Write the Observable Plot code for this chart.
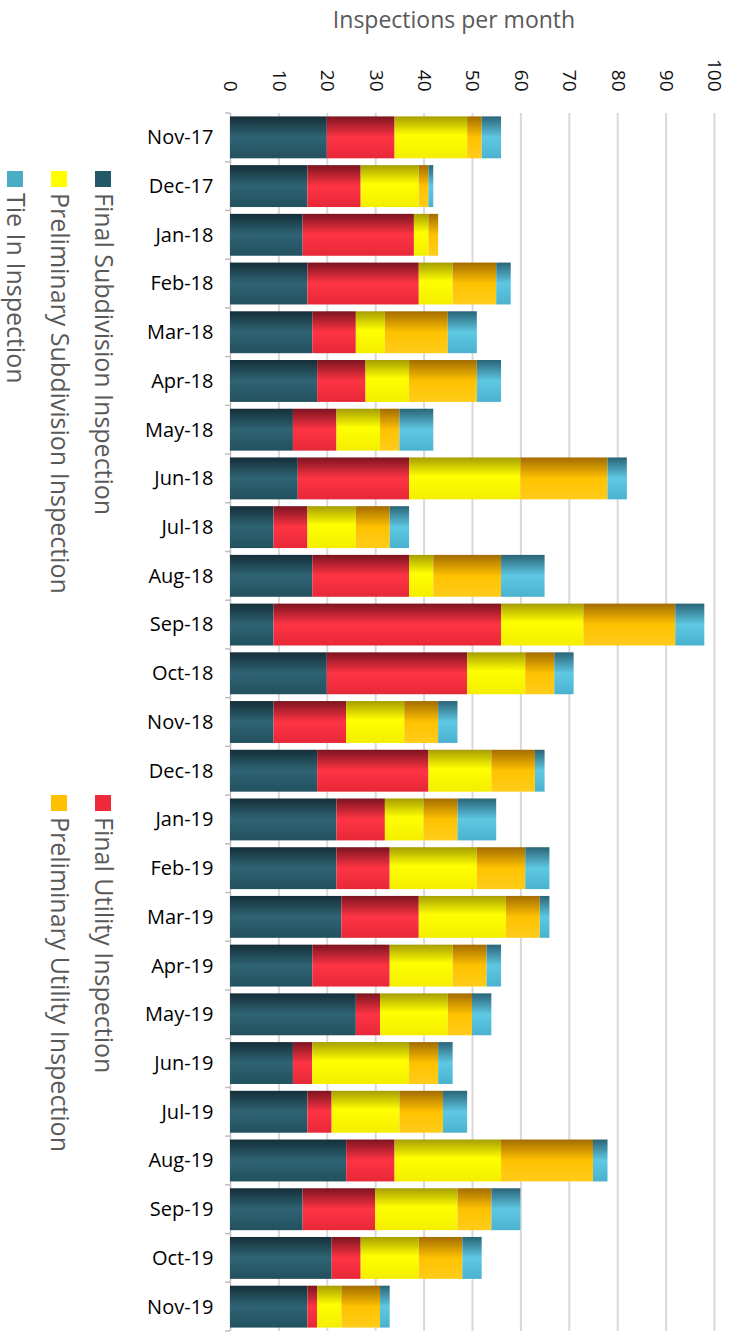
<!DOCTYPE html>
<html>
<head>
<meta charset="utf-8">
<script src="https://cdn.jsdelivr.net/npm/d3@7"></script>
<script src="https://cdn.jsdelivr.net/npm/@observablehq/plot@0.6"></script>
<style>
  html, body { margin: 0; padding: 0; background: #fff; }
  #chart { width: 734px; height: 1336px; overflow: hidden; }
</style>
</head>
<body>
<div id="chart"></div>
<script>
// ---- data ----
const months = ["Nov-17","Dec-17","Jan-18","Feb-18","Mar-18","Apr-18","May-18","Jun-18","Jul-18","Aug-18","Sep-18","Oct-18","Nov-18","Dec-18","Jan-19","Feb-19","Mar-19","Apr-19","May-19","Jun-19","Jul-19","Aug-19","Sep-19","Oct-19","Nov-19"];
const seriesNames = ["Final Subdivision Inspection","Final Utility Inspection","Preliminary Subdivision Inspection","Preliminary Utility Inspection","Tie In Inspection"];
const finalSubdivision   = [20,16,15,16,17,18,13,14, 9,17, 9,20, 9,18,22,22,23,17,26,13,16,24,15,21,16];
const finalUtility       = [14,11,23,23, 9,10, 9,23, 7,20,47,29,15,23,10,11,16,16, 5, 4, 5,10,15, 6, 2];
const prelimSubdivision  = [15,12, 3, 7, 6, 9, 9,23,10, 5,17,12,12,13, 8,18,18,13,14,20,14,22,17,12, 5];
const prelimUtility      = [ 3, 2, 2, 9,13,14, 4,18, 7,14,19, 6, 7, 9, 7,10, 7, 7, 5, 6, 9,19, 7, 9, 8];
const tieIn              = [ 4, 1, 0, 3, 6, 5, 7, 4, 4, 9, 6, 4, 4, 2, 8, 5, 2, 3, 4, 3, 5, 3, 6, 4, 2];
const xTickValues = [0,10,20,30,40,50,60,70,80,90,100];
const titleText = "Inspections per month";

// ---- styles ----
const swatchColors = ["#215968","#ee2a3a","#ffff00","#ffc000","#4bacc6"];
const gradientStops = [
  [["0%","#142f39"],["50%","#2f6474"],["100%","#22505e"]],
  [["0%","#7c1420"],["50%","#ff3444"],["100%","#e62838"]],
  [["0%","#a69e00"],["45%","#ffff00"],["100%","#f3ee00"]],
  [["0%","#a36c00"],["50%","#ffc200"],["100%","#ffcc1a"]],
  [["0%","#2a6477"],["50%","#5ec8e3"],["100%","#4ab2cf"]]
];
const gradIds = seriesNames.map((_, i) => "grad" + i);

const seriesValues = [finalSubdivision, finalUtility, prelimSubdivision, prelimUtility, tieIn];
const table = [];
seriesNames.forEach((s, si) => {
  months.forEach((m, mi) => table.push({month: m, series: s, value: seriesValues[si][mi]}));
});

function defsMark() {
  const defs = d3.create("svg:defs");
  gradientStops.forEach((stops, i) => {
    const g = defs.append("linearGradient").attr("id", gradIds[i])
      .attr("x1", 0).attr("y1", 0).attr("x2", 0).attr("y2", 1);
    stops.forEach(([o, c]) => g.append("stop").attr("offset", o).attr("stop-color", c));
  });
  return defs.node();
}

const chart = Plot.plot({
  width: 734,
  height: 1336,
  marginTop: 113,
  marginLeft: 230,
  marginRight: 20,
  marginBottom: 5,
  style: {fontFamily: "'Open Sans', sans-serif", background: "#fff", overflow: "visible"},
  x: {domain: [0, 100]},
  y: {domain: months, paddingInner: 0.14, paddingOuter: 0.07, round: false},
  color: {domain: seriesNames, range: gradIds.map(id => `url(#${id})`)},
  marks: [
    defsMark,
    Plot.gridX(xTickValues.filter(d => d > 0), {stroke: "#d9d9d9", strokeOpacity: 1, strokeWidth: 2}),
    Plot.ruleX([0], {stroke: "#bfbfbf", strokeWidth: 1.5}),
    Plot.barX(table, {y: "month", x: "value", fill: "series"}),
    Plot.axisX(xTickValues, {anchor: "top", tickRotate: 90, tickSize: 0, tickPadding: 22, fontSize: 19, fill: "#111", label: null}),
    Plot.axisY({tickSize: 0, tickPadding: 17, fontSize: 20, fill: "#000", label: null})
  ]
});

document.getElementById("chart").appendChild(chart);

// ---- band boundary ticks, title, legend ----
const svg = d3.select(chart);
const ys = chart.scale("y");
const x0 = chart.scale("x").apply(0);
const gap = ys.step - ys.bandwidth;
const bounds = months.map(m => ys.apply(m) - gap / 2);
bounds.push(ys.apply(months[months.length - 1]) + ys.bandwidth + gap / 2);
svg.append("g").selectAll("line").data(bounds).join("line")
  .attr("x1", x0 - 5).attr("x2", x0).attr("y1", d => d).attr("y2", d => d)
  .attr("stroke", "#bfbfbf").attr("stroke-width", 1.5);

svg.append("text").text(titleText)
  .attr("x", 454).attr("y", 28).attr("text-anchor", "middle")
  .attr("font-size", 23).attr("fill", "#595959")
  .attr("font-family", "'Open Sans', sans-serif");

const legendCols = [95, 51, 7];
const legendRows = [171, 795];
const legendPos = [[0,0],[0,1],[1,0],[1,1],[2,0]];
const lg = svg.append("g");
seriesNames.forEach((s, i) => {
  const [c, r] = legendPos[i];
  const x = legendCols[c], y = legendRows[r];
  lg.append("rect").attr("x", x).attr("y", y).attr("width", 16).attr("height", 16).attr("fill", swatchColors[i]);
  lg.append("text").text(s)
    .attr("transform", `translate(${x - 0.5},${y + 22}) rotate(90)`)
    .attr("text-anchor", "start")
    .attr("font-size", 25).attr("fill", "#595959")
    .attr("font-family", "'Open Sans', sans-serif");
});
</script>
</body>
</html>
